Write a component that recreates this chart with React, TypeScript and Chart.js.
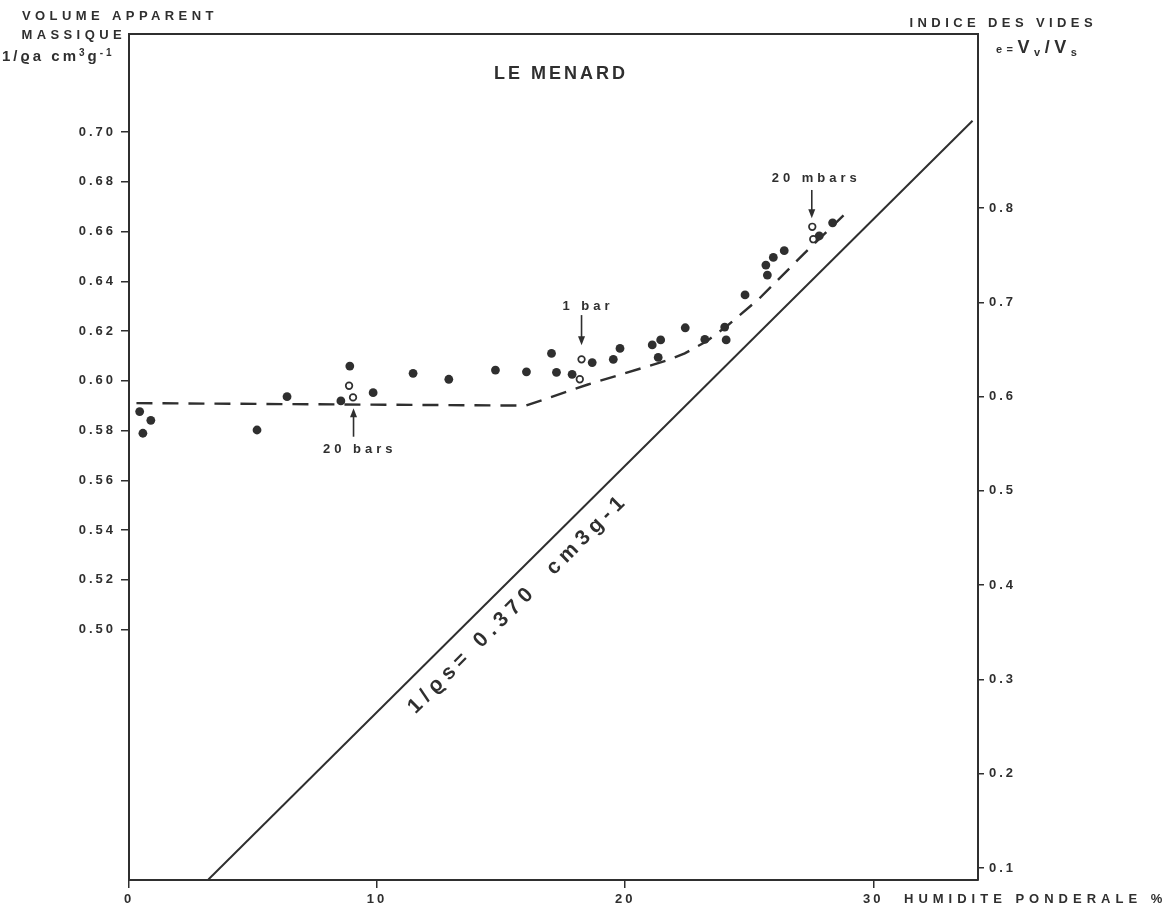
import React, { useEffect, useRef } from 'react';
import { Chart, registerables } from 'chart.js';

Chart.register(...registerables);

// ---- data ----
const xTicks = [0, 10, 20, 30];
const leftTicks = [0.5, 0.52, 0.54, 0.56, 0.58, 0.6, 0.62, 0.64, 0.66, 0.68, 0.7];
const rightTicks = [0.1, 0.2, 0.3, 0.4, 0.5, 0.6, 0.7, 0.8];

// humidité pondérale (%) / volume apparent massique (cm3/g) — filled dots
const filledW = [0.43, 0.88, 0.56, 5.16, 6.37, 8.54, 8.9, 9.84, 11.45, 12.89, 14.77, 16.02, 17.03, 17.23, 17.86, 18.67, 19.52, 19.79, 21.09, 21.43, 21.33, 22.42, 23.21, 24.07, 24.01, 24.83, 25.73, 25.67, 25.97, 26.41, 27.82, 28.36];
const filledV = [0.5876, 0.5841, 0.5789, 0.5802, 0.5936, 0.5919, 0.6059, 0.5952, 0.603, 0.6006, 0.6043, 0.6036, 0.611, 0.6034, 0.6026, 0.6073, 0.6086, 0.613, 0.6144, 0.6164, 0.6094, 0.6213, 0.6166, 0.6164, 0.6216, 0.6345, 0.6425, 0.6465, 0.6496, 0.6523, 0.6582, 0.6635];

// open circles (20 bars, 1 bar, 20 mbars)
const openW = [8.87, 9.03, 18.24, 18.17, 27.54, 27.58];
const openV = [0.598, 0.5933, 0.6086, 0.6006, 0.6619, 0.6569];

// dashed curve
const dashW = [0.3, 16.0, 18.5, 21.7, 22.4, 23.3, 24.1, 25.4, 27.2, 28.8];
const dashV = [0.591, 0.59, 0.5985, 0.6082, 0.611, 0.616, 0.622, 0.633, 0.651, 0.6665];

// saturation line 1/ρs = 0.370
const solidW = [3.2, 34.0];
const solidV = [0.3995, 0.7045];

// annotations: label, label position, arrow x, arrow from/to (V)
const annLabels = ['20 bars', '1 bar', '20 mbars'];
const annTextW = [9.3, 18.5, 27.7];
const annTextV = [0.5724, 0.6298, 0.6815];
const annArrowW = [9.05, 18.24, 27.52];
const annArrowFrom = [0.5775, 0.6264, 0.6767];
const annArrowTo = [0.5889, 0.6143, 0.6653];

const INK = '#2f2f2f';
const FAM = "'Liberation Sans', 'DejaVu Sans', sans-serif";

const toPts = (xs: number[], ys: number[]) => xs.map((x, i) => ({ x, y: ys[i] }));

type Seg = { t: string; size: number; dy?: number };

function drawRich(ctx: any, segs: Seg[], x: number, y: number, align: 'left' | 'right', spacing: number) {
  ctx.letterSpacing = spacing + 'px';
  const widths = segs.map((s) => {
    ctx.font = `bold ${s.size}px ${FAM}`;
    return ctx.measureText(s.t).width;
  });
  const total = widths.reduce((a, b) => a + b, 0);
  let cx = align === 'right' ? x - total : x;
  ctx.textAlign = 'left';
  segs.forEach((s, i) => {
    ctx.font = `bold ${s.size}px ${FAM}`;
    ctx.fillText(s.t, cx, y + (s.dy || 0));
    cx += widths[i];
  });
}

const decor = {
  id: 'decor',
  beforeDraw(chart: any) {
    chart.ctx.letterSpacing = '3px';
  },
  afterDraw(chart: any) {
    const ctx = chart.ctx;
    const { left, right, top } = chart.chartArea;
    const xs = chart.scales.x;
    const ys = chart.scales.y;
    ctx.save();
    ctx.strokeStyle = INK;
    ctx.fillStyle = INK;
    ctx.lineWidth = 2;
    // frame top
    ctx.beginPath();
    ctx.moveTo(left, top);
    ctx.lineTo(right, top);
    ctx.stroke();

    ctx.textBaseline = 'alphabetic';
    // title
    ctx.letterSpacing = '3px';
    ctx.font = `bold 18px ${FAM}`;
    ctx.textAlign = 'center';
    ctx.fillText('LE MENARD', 561, 79);

    // left axis title
    drawRich(ctx, [{ t: 'VOLUME APPARENT', size: 13 }], 22, 20, 'left', 4.4);
    drawRich(ctx, [{ t: 'MASSIQUE', size: 13 }], 126, 39, 'right', 4.4);
    drawRich(
      ctx,
      [
        { t: '1/ϱa cm', size: 15 },
        { t: '3', size: 10, dy: -5 },
        { t: 'g', size: 15 },
        { t: '-1', size: 10, dy: -5 },
      ],
      2,
      61,
      'left',
      3
    );

    // right axis title
    drawRich(ctx, [{ t: 'INDICE DES VIDES', size: 13 }], 1097, 27, 'right', 4.4);
    drawRich(
      ctx,
      [
        { t: 'e', size: 11 },
        { t: '=', size: 11 },
        { t: 'V', size: 18 },
        { t: 'v', size: 11, dy: 3 },
        { t: '/', size: 18 },
        { t: 'V', size: 18 },
        { t: 's', size: 11, dy: 3 },
      ],
      996,
      53,
      'left',
      4.5
    );

    // x axis title
    drawRich(ctx, [{ t: 'HUMIDITE PONDERALE %', size: 13 }], 904, 903, 'left', 5);

    // annotations with arrows
    ctx.lineWidth = 1.6;
    annLabels.forEach((lab, i) => {
      const tx = xs.getPixelForValue(annTextW[i]);
      const ty = ys.getPixelForValue(annTextV[i]);
      ctx.letterSpacing = '4px';
      ctx.font = `bold 13px ${FAM}`;
      ctx.textAlign = 'center';
      ctx.textBaseline = 'middle';
      ctx.fillText(lab, tx, ty);
      const ax = xs.getPixelForValue(annArrowW[i]);
      const ay0 = ys.getPixelForValue(annArrowFrom[i]);
      const ay1 = ys.getPixelForValue(annArrowTo[i]);
      const dir = ay1 > ay0 ? 1 : -1;
      ctx.beginPath();
      ctx.moveTo(ax, ay0);
      ctx.lineTo(ax, ay1 - dir * 6);
      ctx.stroke();
      ctx.beginPath();
      ctx.moveTo(ax, ay1);
      ctx.lineTo(ax - 3.5, ay1 - dir * 9);
      ctx.lineTo(ax + 3.5, ay1 - dir * 9);
      ctx.closePath();
      ctx.fill();
    });

    // rotated label along saturation line
    const cx = xs.getPixelForValue(15.69);
    const cy = ys.getPixelForValue(0.5105);
    ctx.translate(cx, cy);
    ctx.rotate(-Math.PI / 4);
    ctx.letterSpacing = '5.5px';
    ctx.font = `bold 21px ${FAM}`;
    ctx.textAlign = 'center';
    ctx.textBaseline = 'middle';
    ctx.fillText('1/ϱs= 0.370  cm3g-1', 0, 0);
    ctx.restore();
    ctx.letterSpacing = '0px';
  },
};

const tickFont = { family: FAM, weight: 'bold' as const, size: 13 };

export default function App() {
  const ref = useRef<HTMLCanvasElement>(null);
  useEffect(() => {
    const chart = new Chart(ref.current as HTMLCanvasElement, {
      type: 'scatter',
      data: {
        datasets: [
          {
            label: 'saturation',
            data: toPts(solidW, solidV),
            showLine: true,
            pointRadius: 0,
            borderColor: INK,
            borderWidth: 2,
            order: 4,
          },
          {
            label: 'courbe',
            data: toPts(dashW, dashV),
            showLine: true,
            pointRadius: 0,
            borderColor: INK,
            borderWidth: 2.4,
            borderDash: [16, 10],
            order: 3,
          },
          {
            label: 'mesures',
            data: toPts(filledW, filledV),
            pointRadius: 4.4,
            pointBackgroundColor: INK,
            pointBorderWidth: 0,
            order: 2,
          },
          {
            label: 'tensions',
            data: toPts(openW, openV),
            pointRadius: 3.3,
            pointBackgroundColor: '#ffffff',
            pointBorderColor: INK,
            pointBorderWidth: 1.7,
            order: 1,
          },
        ],
      },
      options: {
        responsive: false,
        animation: false,
        devicePixelRatio: 1,
        layout: { padding: { top: 34, left: 0, right: 0, bottom: 0 } },
        plugins: { legend: { display: false }, tooltip: { enabled: false } },
        events: [],
        scales: {
          x: {
            type: 'linear',
            position: 'bottom',
            min: 0,
            max: 34.22,
            afterBuildTicks: (s: any) => {
              s.ticks = xTicks.map((v) => ({ value: v }));
            },
            afterFit: (s: any) => {
              s.height = 39;
            },
            grid: { drawOnChartArea: false, drawTicks: true, tickLength: 8, color: INK, lineWidth: 1.5 },
            border: { display: true, color: INK, width: 2 },
            ticks: { color: INK, font: tickFont, padding: 4, maxRotation: 0, autoSkip: false, callback: (v: any) => String(v) },
          },
          y: {
            type: 'linear',
            position: 'left',
            min: 0.3993,
            max: 0.7394,
            afterBuildTicks: (s: any) => {
              s.ticks = leftTicks.map((v) => ({ value: v }));
            },
            afterFit: (s: any) => {
              s.width = 129;
            },
            grid: { drawOnChartArea: false, drawTicks: true, tickLength: 8, color: INK, lineWidth: 1.5 },
            border: { display: true, color: INK, width: 2 },
            ticks: { color: INK, font: tickFont, padding: 5, autoSkip: false, callback: (v: any) => Number(v).toFixed(2) },
          },
          y2: {
            type: 'linear',
            position: 'right',
            min: 0.0873,
            max: 0.9845,
            afterBuildTicks: (s: any) => {
              s.ticks = rightTicks.map((v) => ({ value: v }));
            },
            afterFit: (s: any) => {
              s.width = 198;
            },
            grid: { drawOnChartArea: false, drawTicks: true, tickLength: 6, color: INK, lineWidth: 1.5 },
            border: { display: true, color: INK, width: 2 },
            ticks: { color: INK, font: tickFont, padding: 5, autoSkip: false, callback: (v: any) => Number(v).toFixed(1) },
          },
        },
      },
      plugins: [decor],
    } as any);
    return () => chart.destroy();
  }, []);
  return (
    <div style={{ position: 'fixed', left: 0, top: 0, width: 1176, height: 919, background: '#ffffff' }}>
      <canvas ref={ref} width={1176} height={919} style={{ display: 'block', width: 1176, height: 919 }} />
    </div>
  );
}
